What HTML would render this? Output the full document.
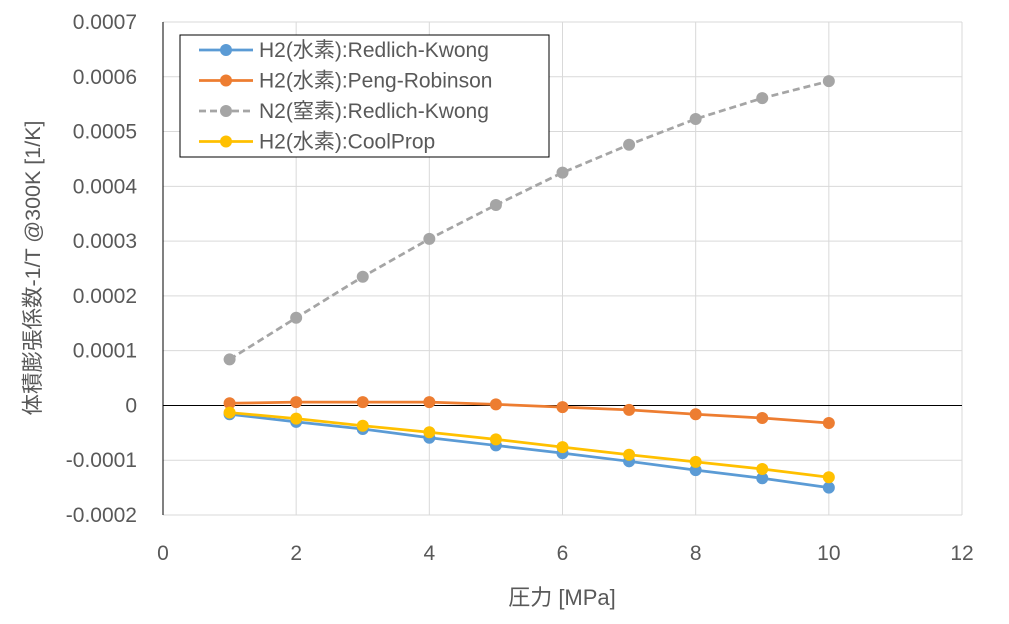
<!DOCTYPE html>
<html><head><meta charset="utf-8"><style>
body{margin:0;background:#fff;}
svg text{font-family:"Liberation Sans","Noto Sans CJK JP",sans-serif;fill:#595959;}
</style></head><body>
<svg id="chart" width="1009" height="619" xmlns="http://www.w3.org/2000/svg">
<g id="grid"></g>
<g id="axes"></g>
<g id="series"></g>
<text x="562" y="605" font-size="22" text-anchor="middle">圧力 [MPa]</text>
<text transform="translate(40,268) rotate(-90)" font-size="21.5" text-anchor="middle">体積膨張係数-1/T @300K [1/K]</text>
<g id="legend"></g>
</svg>
<script>
const xCats=[1,2,3,4,5,6,7,8,9,10];
const h2RK=[-0.000016,-0.000030,-0.000043,-0.000059,-0.000073,-0.000087,-0.000102,-0.000118,-0.000133,-0.000150];
const h2PR=[0.000004,0.000006,0.000006,0.000006,0.000002,-0.000003,-0.000008,-0.000016,-0.000023,-0.000032];
const n2RK=[0.000084,0.000160,0.000235,0.000304,0.000366,0.000425,0.000476,0.000523,0.000561,0.000592];
const h2CP=[-0.000013,-0.000024,-0.000037,-0.000049,-0.000062,-0.000076,-0.000090,-0.000103,-0.000116,-0.000131];
const xTicks=[0,2,4,6,8,10,12];
const yTicks=[-0.0002,-0.0001,0,0.0001,0.0002,0.0003,0.0004,0.0005,0.0006,0.0007];
const yLabels=["-0.0002","-0.0001","0","0.0001","0.0002","0.0003","0.0004","0.0005","0.0006","0.0007"];
const seriesNames=["H2(水素):Redlich-Kwong","H2(水素):Peng-Robinson","N2(窒素):Redlich-Kwong","H2(水素):CoolProp"];
const L=163,R=962,T=22,B=515;
const X=v=>L+(v-0)/12*(R-L);
const Y=v=>B-(v+0.0002)/0.0009*(B-T);
const NS="http://www.w3.org/2000/svg";
function mk(t,a,p){const e=document.createElementNS(NS,t);for(const k in a)e.setAttribute(k,a[k]);p.appendChild(e);return e;}
const grid=document.getElementById('grid'),axes=document.getElementById('axes'),ser=document.getElementById('series'),leg=document.getElementById('legend');
xTicks.forEach(t=>{const l=mk('line',{x1:X(t),x2:X(t),y1:T,y2:B,stroke:'#d9d9d9','stroke-width':1},grid);

const tx=mk('text',{x:X(t),y:560,'font-size':21,'text-anchor':'middle'},axes);tx.textContent=t;
});
yTicks.forEach((t,i)=>{if(t!==0){const l=mk('line',{x1:L,x2:R,y1:Y(t),y2:Y(t),stroke:'#d9d9d9','stroke-width':1},grid);
}
const tx=mk('text',{x:137,y:Y(t)+7,'font-size':21,'text-anchor':'end'},axes);tx.textContent=yLabels[i];
});
const ya=mk('line',{x1:L,x2:L,y1:T,y2:B,stroke:'#000','stroke-width':1},axes);

const za=mk('line',{x1:L,x2:R,y1:Y(0),y2:Y(0),stroke:'#000','stroke-width':1},axes);

const defs=[[h2RK,'#5b9bd5',''],[h2PR,'#ed7d31',''],[n2RK,'#a5a5a5','7,4'],[h2CP,'#ffc000','']];
const order=[2,0,1,3];
order.forEach(i=>{const [d,c,da]=defs[i];const g=mk('g',{},ser);

const pl=mk('polyline',{points:d.map((v,j)=>X(xCats[j])+','+Y(v)).join(' '),fill:'none',stroke:c,'stroke-width':2.75,'stroke-dasharray':da},g);

d.forEach((v,j)=>{const p=mk('circle',{cx:X(xCats[j]),cy:Y(v),r:6,fill:c},g);
});});
const box=mk('rect',{x:180,y:35,width:369,height:122,fill:'#fff',stroke:'#000','stroke-width':1},leg);

defs.forEach((s,i)=>{const y=50+i*30.5;const g=mk('g',{},leg);

mk('line',{x1:199,x2:253,y1:y,y2:y,stroke:s[1],'stroke-width':2.75,'stroke-dasharray':s[2]},g);
mk('circle',{cx:226,cy:y,r:6,fill:s[1]},g);
const t=mk('text',{x:259,y:y+7,'font-size':21},g);t.textContent=seriesNames[i];});
</script>
</body></html>
